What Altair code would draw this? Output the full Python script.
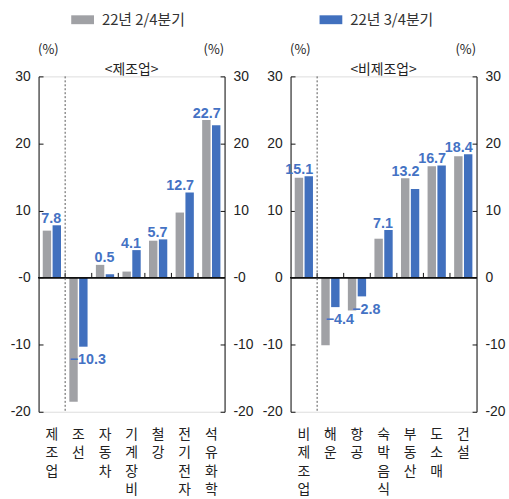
import altair as alt
import pandas as pd

SERIES = ["22년 2/4분기", "22년 3/4분기"]
COLORS = ["#A0A1A5", "#4170BE"]
LABEL_BLUE = "#4472C4"

mfg_cats = ["제조업", "조선", "자동차", "기계장비", "철강", "전기전자", "석유화학"]
mfg_q2 = [7.0, -18.5, 1.9, 0.9, 5.5, 9.7, 23.5]
mfg_q3 = [7.8, -10.3, 0.5, 4.1, 5.7, 12.7, 22.7]

non_cats = ["비제조업", "해운", "항공", "숙박음식", "부동산", "도소매", "건설"]
non_q2 = [14.9, -10.1, -4.9, 5.8, 14.8, 16.6, 18.1]
non_q3 = [15.1, -4.4, -2.8, 7.1, 13.2, 16.7, 18.4]

y_ticks = [-20, -10, 0, 10, 20, 30]

W = 188
H = 339
STEP = W / 7
NUM_FONT = "Liberation Sans Narrow, Liberation Sans, sans-serif"
KR_FONT = "Noto Sans CJK KR"


def panel(cats, q2, q3, title, zero_label):
    rows = []
    for c, a, b in zip(cats, q2, q3):
        rows.append({"cat": c, "series": SERIES[0], "value": a})
        rows.append({"cat": c, "series": SERIES[1], "value": b})
    df = pd.DataFrame(rows)
    bounds = pd.DataFrame({"cat": cats[1:]})
    sep = pd.DataFrame({"cat": [cats[1]]})

    ys = alt.Scale(domain=[-20, 30], nice=False, zero=False)
    label_expr = (f"datum.value == 0 ? '{zero_label}' : "
                  "(datum.value < 0 ? '-' + abs(datum.value) : '' + datum.value)")
    common = dict(values=y_ticks, tickSize=4.5, labelPadding=-13, labelBaseline="middle",
                  domainColor="#111", tickColor="#111", labelColor="#222",
                  labelFont=NUM_FONT, labelFontSize=14, grid=False, labelExpr=label_expr,
                  title="(%)", titleAngle=0, titleX=-1, titleY=-27, titleBaseline="middle",
                  titleFont=KR_FONT, titleFontSize=13, titleFontWeight="normal",
                  titleColor="#222")
    ax_left = alt.Axis(orient="right", offset=-W, labelAlign="right", titleAlign="left", **common)
    ax_right = alt.Axis(orient="left", offset=-W, labelAlign="left", titleAlign="right", **common)

    xs = alt.Scale(domain=cats, paddingInner=0, paddingOuter=0)
    xax = alt.Axis(
        orient="bottom", labelExpr="split(datum.label, '')", labelAngle=0, ticks=False,
        domain=False, labelPadding=16, labelLineHeight=18.5, labelBaseline="top",
        labelFont=KR_FONT, labelFontSize=14, labelColor="#222", title=None,
    )
    X = alt.X("cat:N", scale=xs, axis=xax, sort=cats)
    xoff = alt.XOffset("series:N", scale=alt.Scale(domain=SERIES, paddingInner=0, paddingOuter=0.35))

    bars = alt.Chart(df).mark_bar(width=8.5).encode(
        x=X,
        xOffset=xoff,
        y=alt.Y("value:Q", scale=ys, axis=ax_left),
        color=alt.Color("series:N", scale=alt.Scale(domain=SERIES, range=COLORS),
                        legend=alt.Legend(
                            orient="none", legendX=33, legendY=-69, direction="horizontal",
                            title=None, symbolType="M-1,-0.39H1V0.39H-1Z", symbolSize=529,
                            symbolStrokeWidth=0, labelFont=KR_FONT, labelFontSize=15,
                            labelColor="#333", columnPadding=136, labelOffset=8)),
    )

    zero = alt.Chart(df).mark_rule(color="#111", strokeWidth=1).encode(
        y=alt.Y(datum=0, scale=ys, axis=ax_left)
    )
    ticks = alt.Chart(bounds).mark_rule(color="#111", strokeWidth=1, xOffset=-STEP / 2).encode(
        x=X, y=alt.Y(datum=0, scale=ys, axis=ax_left), y2=alt.Y2(datum=0.7)
    )
    dotted = alt.Chart(sep).mark_rule(color="#555", strokeWidth=1, strokeDash=[2, 2],
                                       xOffset=-STEP / 2).encode(
        x=X, y=alt.Y(datum=30, scale=ys, axis=ax_left), y2=alt.Y2(datum=-20)
    )

    lab_base = alt.Chart(df).transform_joinaggregate(
        mx="max(value)", groupby=["cat"]
    ).transform_filter(
        alt.datum.series == SERIES[1]
    ).transform_calculate(
        txt="datum.value < 0 ? '\u2212' + format(abs(datum.value), '.1f') : format(datum.value, '.1f')"
    )
    pos_lab = lab_base.transform_filter(alt.datum.value >= 0).mark_text(
        align="right", baseline="alphabetic", dx=4.5, dy=-2.5, font="Liberation Sans",
        fontSize=14.5, fontWeight="bold", color=LABEL_BLUE,
    ).encode(x=X, xOffset=xoff, y=alt.Y("mx:Q", scale=ys, axis=ax_left), text="txt:N")
    neg_lab = lab_base.transform_filter(alt.datum.value < 0).mark_text(
        align="center", baseline="top", dx=4.5, dy=6.5, font="Liberation Sans",
        fontSize=14.5, fontWeight="bold", color=LABEL_BLUE,
    ).encode(x=X, xOffset=xoff, y=alt.Y("value:Q", scale=ys, axis=ax_left), text="txt:N")

    inner = alt.layer(bars, zero, ticks, dotted, pos_lab, neg_lab)
    right = alt.Chart(df).mark_rule(opacity=0).encode(
        y=alt.Y(datum=0, scale=ys, axis=ax_right)
    )
    return alt.layer(inner, right).resolve_scale(y="independent").properties(
        width=W, height=H,
        title=alt.TitleParams(title, font=KR_FONT, fontSize=14, fontWeight="normal",
                              color="#222", anchor="middle", frame="group", offset=0, dy=34),
    )


p1 = panel(mfg_cats, mfg_q2, mfg_q3, "<제조업>", "-0")
p2 = panel(non_cats, non_q2, non_q3, "<비제조업>", "0")

chart = alt.hconcat(p1, p2, spacing=66.7, bounds="flush").properties(
    padding={"left": 9, "top": 5.5, "right": 3.5, "bottom": 1.5}
).configure_view(stroke=None).configure(background="white")

chart.save("out.html", embed_options={"renderer": "svg", "actions": False})
